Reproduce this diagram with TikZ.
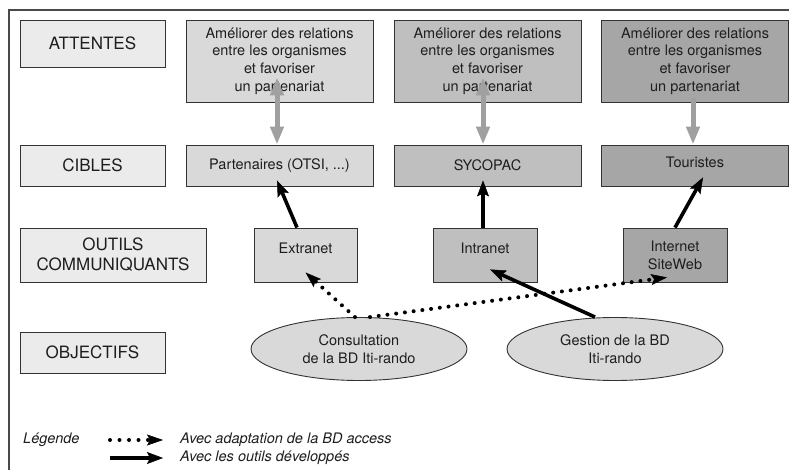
\documentclass[tikz,border=0pt]{standalone}
\usepackage{fontspec}
\setmainfont{TeX Gyre Heros}
\usetikzlibrary{arrows.meta,shapes.geometric}
\definecolor{framec}{HTML}{4A4A4A}
\definecolor{edgec}{HTML}{333333}
\definecolor{txtc}{HTML}{1E1E1E}
\definecolor{lab}{HTML}{EBEBEB}
\definecolor{colA}{HTML}{D9D9D9}
\definecolor{colB}{HTML}{BFBFBF}
\definecolor{colC}{HTML}{A6A6A6}
\definecolor{garrow}{HTML}{A0A0A0}
\tikzset{
  box/.style={draw=edgec, line width=0.9pt, rectangle, inner sep=0pt, text=txtc, align=center},
  labbox/.style={box, fill=lab, font=\fontsize{17}{20}\selectfont},
  smallbox/.style={box, font=\fontsize{14.5}{17.7}\selectfont},
  topbox/.style={smallbox, minimum width=187pt, minimum height=82pt},
  cibbox/.style={smallbox, minimum width=187pt, minimum height=41pt},
  toolbox/.style={smallbox, minimum width=104pt, minimum height=54pt},
  oval/.style={draw=edgec, line width=0.9pt, ellipse, fill=colA, inner sep=0pt, minimum width=216pt, minimum height=63pt, text=txtc, align=center, font=\fontsize{14.5}{17.7}\selectfont},
  grayarr/.style={draw=garrow, line width=5pt},
  blackarr/.style={draw=black, line width=3.6pt, -{Stealth[length=16pt,width=12pt,inset=3pt,line width=0.5pt]}},
  dotarr/.style={draw=black, line width=4pt, line cap=round, dash pattern=on 0pt off 8.8pt, -{Stealth[length=16pt,width=11pt,inset=3pt,line width=0.5pt]}},
  legtext/.style={anchor=west, inner sep=0pt, text=txtc, font=\fontsize{14.5}{17.7}\selectfont\itshape},
}
\begin{document}
\begin{tikzpicture}[x=1pt,y=-1pt]
\useasboundingbox (0,0) rectangle (789,470);
% frame
\draw[framec, line width=1.6pt] (9,471) |- (790,10);
% row labels
\node[labbox, minimum width=145pt, minimum height=47pt] (att) at (92.5,43.5) {ATTENTES};
\node[labbox, minimum width=145pt, minimum height=41pt] (cib) at (92.5,165.5) {CIBLES};
\node[labbox, minimum width=186pt, minimum height=54pt] (out) at (113,255) {OUTILS\\COMMUNIQUANTS};
\node[labbox, minimum width=145pt, minimum height=41pt] (obj) at (92.5,352.5) {OBJECTIFS};
% attentes
\node[topbox, fill=colA] (t1) at (279.5,61) {Améliorer des relations\\entre les organismes\\et favoriser\\un partenariat};
\node[topbox, fill=colB] (t2) at (487.5,61) {Améliorer des relations\\entre les organismes\\et favoriser\\un partenariat};
\node[topbox, fill=colC] (t3) at (695,61) {Améliorer des relations\\entre les organismes\\et favoriser\\un partenariat};
% cibles
\node[cibbox, fill=colA] (p1) at (279.5,165.5) {Partenaires (OTSI, ...)};
\node[cibbox, fill=colB] (p2) at (487.5,165.5) {SYCOPAC};
\node[cibbox, fill=colC, text depth=6pt] (p3) at (695,165.5) {Touristes};
% outils
\node[toolbox, fill=colA, minimum width=103pt, text height=10.5pt, text depth=14pt] (ext) at (305.5,255) {Extranet};
\node[toolbox, fill=colB, text height=10.5pt, text depth=14pt] (intr) at (485,255) {Intranet};
\node[toolbox, fill=colC] (web) at (675,255) {Internet\\SiteWeb};
% objectifs
\node[oval] (cons) at (359,349) {Consultation\\de la BD Iti-rando};
\node[oval] (gest) at (615,349) {Gestion de la BD\\Iti-rando};
% gray arrows
\draw[grayarr, {Triangle[length=18pt,width=13pt]}-{Triangle[length=18pt,width=13pt]}] ([xshift=-2.5pt,yshift=25pt]t1.south) -- ([xshift=-2.5pt]p1.north);
\draw[grayarr, {Triangle[length=18pt,width=13pt]}-{Triangle[length=18pt,width=13pt]}] ([xshift=-4.5pt,yshift=25pt]t2.south) -- ([xshift=-4.5pt]p2.north);
\draw[grayarr, -{Triangle[length=18pt,width=13pt]}] ([xshift=-2pt,yshift=4pt]t3.south) -- ([xshift=-2pt]p3.north);
% black arrows
\draw[blackarr] ([xshift=-8.5pt]ext.north) -- ([xshift=-2.5pt,yshift=6pt]p1.south);
\draw[blackarr] ([xshift=-2pt]intr.north) -- ([xshift=-4.5pt,yshift=6pt]p2.south);
\draw[blackarr] (web.north) -- ([xshift=8pt,yshift=9pt]p3.south);
\draw[blackarr] ([xshift=-20pt]gest.north) -- ([xshift=5pt,yshift=13pt]intr.south);
% dotted arrows
\draw[dotarr] ([xshift=-4pt]cons.north) -- ([yshift=10pt]ext.south);
\draw[dotarr] ([xshift=11pt]cons.north) -- ([xshift=-8pt,yshift=5pt]web.south);
% legend
\node[legtext] (leg) at (23,440) {Légende};
\coordinate (l1a) at (110,440);
\coordinate (l1b) at (163,440);
\coordinate (l2a) at (110,458);
\coordinate (l2b) at (163,458);
\draw[dotarr, dash pattern=on 0pt off 9.5pt] (l1a) -- (l1b);
\draw[blackarr] (l2a) -- (l2b);
\node[legtext] (leg1) at (180,440) {Avec adaptation de la BD access};
\node[legtext] (leg2) at (180,458) {Avec les outils développés};
\end{tikzpicture}
\end{document}
